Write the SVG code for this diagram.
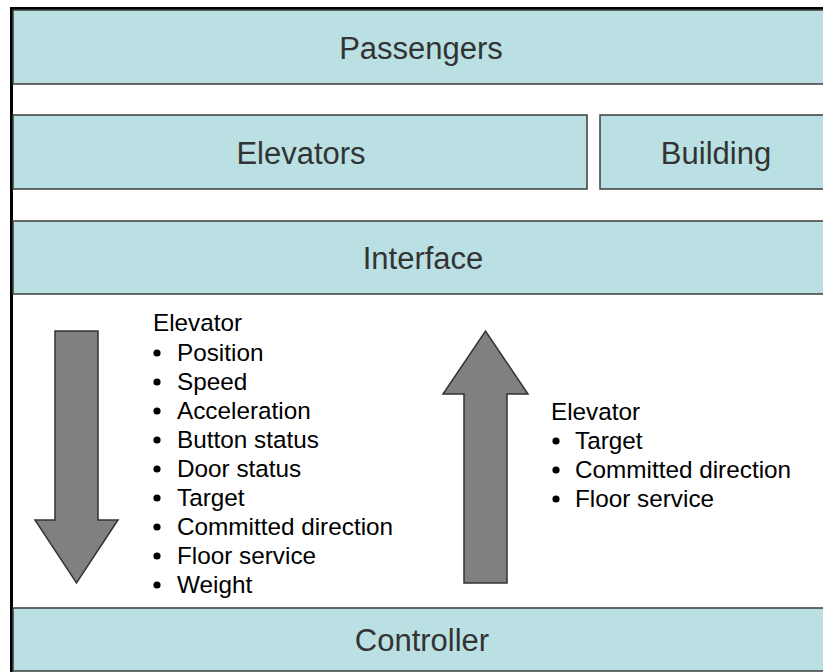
<svg xmlns="http://www.w3.org/2000/svg" width="823" height="672" viewBox="0 0 823 672">
  <style>
    .layer { fill: #bae0e3; stroke: #3c3c3c; stroke-width: 1.5; }
    .label { font-family: "Liberation Sans", Arial, sans-serif; font-size: 31px; fill: #333333; text-anchor: middle; }
    .list { font-family: "Liberation Sans", Arial, sans-serif; font-size: 24.3px; fill: #000000; }
    .dot { fill: #000000; }
    .arrow { fill: #808080; stroke: #333333; stroke-width: 1.5; stroke-linejoin: miter; }
  </style>
  <rect width="823" height="672" fill="#ffffff"/>

  <!-- outer frame -->
  <rect x="11.5" y="8.5" width="830" height="680" fill="none" stroke="#000000" stroke-width="3"/>

  <g id="passengers">
    <rect class="layer" x="13" y="10" width="830" height="74"/>
    <text class="label" x="421" y="59">Passengers</text>
  </g>

  <g id="elevators">
    <rect class="layer" x="13" y="115" width="574" height="74"/>
    <text class="label" x="301" y="164">Elevators</text>
  </g>

  <g id="building">
    <rect class="layer" x="600" y="115" width="240" height="74"/>
    <text class="label" x="716" y="164">Building</text>
  </g>

  <g id="interface">
    <rect class="layer" x="13" y="221" width="830" height="73"/>
    <text class="label" x="423" y="269">Interface</text>
  </g>

  <g id="controller">
    <rect class="layer" x="13" y="608" width="830" height="63"/>
    <text class="label" x="422" y="651">Controller</text>
  </g>

  <g id="connectors">
    <!-- downward data flow: interface to controller -->
    <polygon class="arrow" points="55,331 98,331 98,520 118,520 76.5,583 35,520 55,520"/>
    <!-- upward data flow: controller to interface -->
    <polygon class="arrow" points="464,583 507,583 507,394 528,394 485.5,331 443,394 464,394"/>
  </g>

  <g id="down-list">
    <text class="list" x="153" y="331">Elevator</text>
    <g class="dot">
      <circle cx="157" cy="353" r="3.6"/>
      <circle cx="157" cy="382" r="3.6"/>
      <circle cx="157" cy="411" r="3.6"/>
      <circle cx="157" cy="440" r="3.6"/>
      <circle cx="157" cy="469" r="3.6"/>
      <circle cx="157" cy="498" r="3.6"/>
      <circle cx="157" cy="527" r="3.6"/>
      <circle cx="157" cy="556" r="3.6"/>
      <circle cx="157" cy="585" r="3.6"/>
    </g>
    <text class="list" x="177" y="361">Position</text>
    <text class="list" x="177" y="390">Speed</text>
    <text class="list" x="177" y="419">Acceleration</text>
    <text class="list" x="177" y="448">Button status</text>
    <text class="list" x="177" y="477">Door status</text>
    <text class="list" x="177" y="506">Target</text>
    <text class="list" x="177" y="535">Committed direction</text>
    <text class="list" x="177" y="564">Floor service</text>
    <text class="list" x="177" y="593">Weight</text>
  </g>

  <g id="up-list">
    <text class="list" x="551" y="420">Elevator</text>
    <g class="dot">
      <circle cx="556" cy="441" r="3.6"/>
      <circle cx="556" cy="470" r="3.6"/>
      <circle cx="556" cy="499" r="3.6"/>
    </g>
    <text class="list" x="575" y="449">Target</text>
    <text class="list" x="575" y="478">Committed direction</text>
    <text class="list" x="575" y="507">Floor service</text>
  </g>
</svg>
